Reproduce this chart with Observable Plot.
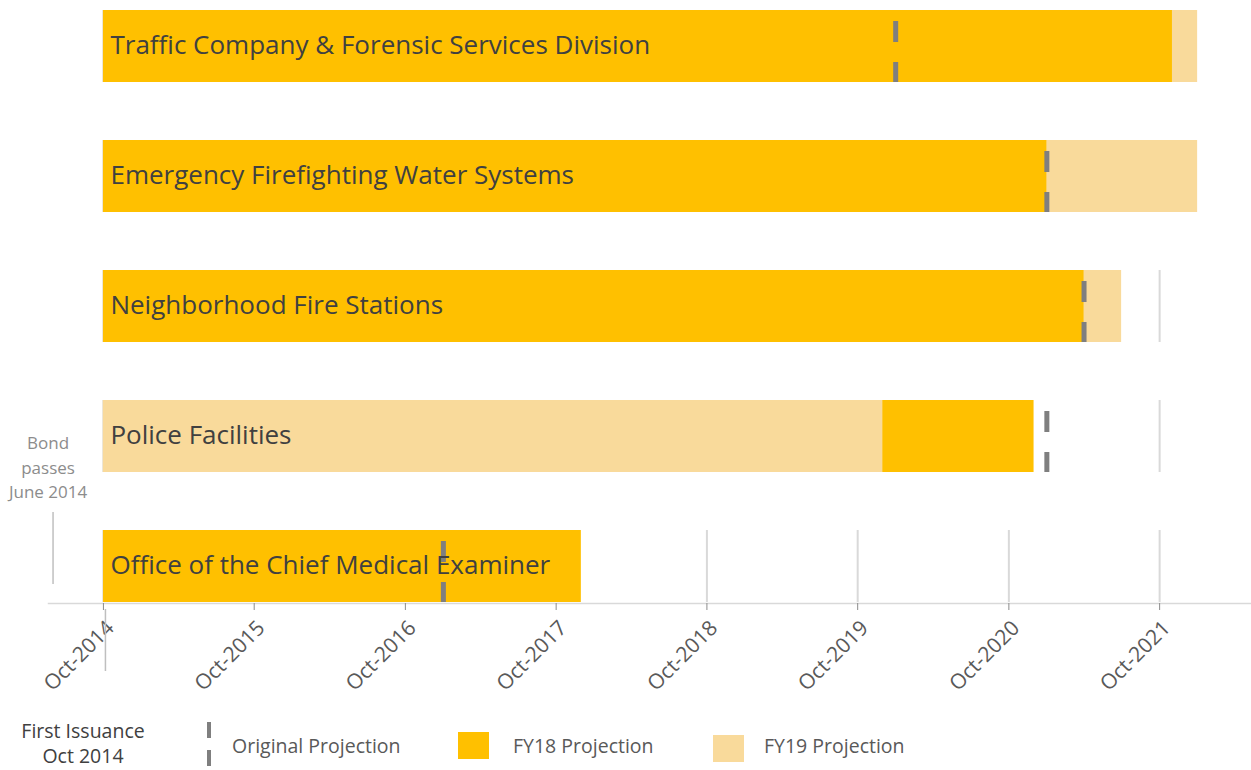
<!DOCTYPE html>
<html>
<head>
<meta charset="utf-8">
<script src="https://cdn.jsdelivr.net/npm/d3@7"></script>
<script src="https://cdn.jsdelivr.net/npm/@observablehq/plot@0.6"></script>
<style>
  body { margin: 0; background: #fff; font-family: 'Open Sans', sans-serif; }
  #legend { position: relative; width: 1251px; height: 65px; color: #595959; }
  #legend div { position: absolute; }
  .lt { font-size: 19.5px; line-height: 24px; white-space: nowrap; }
  .it { font-size: 19.5px; line-height: 18px; white-space: nowrap; width: 140px; text-align: center; color: #404040; left: 13px; }
</style>
</head>
<body>
<div id="chart"></div>
<div id="legend"></div>
<script>
// ---- data ----
const projects = [
  "Traffic Company & Forensic Services Division",
  "Emergency Firefighting Water Systems",
  "Neighborhood Fire Stations",
  "Police Facilities",
  "Office of the Chief Medical Examiner"
];
const startDate = "2014-10-01";
const fy18End = ["2021-11-01", "2021-01-01", "2021-04-01", "2020-12-01", "2017-12-01"];
const fy19End = ["2022-01-01", "2022-01-01", "2021-07-01", "2019-12-01", null];
const originalProjection = ["2020-01-01", "2021-01-01", "2021-04-01", "2021-01-01", "2017-01-01"];
const tickDates = ["2014-10-01", "2015-10-01", "2016-10-01", "2017-10-01", "2018-10-01", "2019-10-01", "2020-10-01", "2021-10-01"];
const tickLabels = ["Oct-2014", "Oct-2015", "Oct-2016", "Oct-2017", "Oct-2018", "Oct-2019", "Oct-2020", "Oct-2021"];
const xDomain = ["2014-05-21", "2022-05-09"];
const bondDate = "2014-06-01";
const bondText = "Bond\npasses\nJune 2014";
const issuanceDate = "2014-10-01";
const issuanceText = ["First Issuance", "Oct 2014"];
const seriesNames = ["FY18 Projection", "FY19 Projection"];
const seriesColors = ["#FFC000", "#F9DA9B"];
const originalName = "Original Projection";

// ---- derived tables ----
const parse = d3.utcParse("%Y-%m-%d");
const fmt = d3.utcFormat("%Y-%m-%d");
const bars = projects.flatMap((p, i) => [
  {project: p, series: seriesNames[0], start: parse(startDate), end: parse(fy18End[i])},
  fy19End[i] ? {project: p, series: seriesNames[1], start: parse(startDate), end: parse(fy19End[i])} : null
].filter(Boolean).sort((a, b) => b.end - a.end));
const orig = projects.map((p, i) => ({project: p, date: parse(originalProjection[i])}));
const grid = projects.flatMap(p => tickDates.map(t => ({project: p, date: parse(t)})));
const lastRow = projects[projects.length - 1];
const ticks = tickDates.map(parse);

const plot = Plot.plot({
  width: 1251,
  height: 705,
  marginTop: 10,
  marginBottom: 102,
  marginLeft: 48,
  marginRight: 1,
  x: {type: "utc", domain: xDomain.map(parse), axis: null},
  y: {domain: projects, paddingInner: 0.446, paddingOuter: 0, axis: null},
  color: {domain: seriesNames, range: seriesColors},
  style: {fontFamily: "'Open Sans', sans-serif", background: "white", overflow: "visible"},
  marks: [
    Plot.tickX(grid, {x: "date", y: "project", stroke: "#d9d9d9", strokeWidth: 2}),
    Plot.rectX(bars, {x1: "start", x2: "end", y: "project", fill: "series"}),
    Plot.tickX(orig, {x: "date", y: "project", stroke: "#7f7f7f", strokeWidth: 5, strokeDasharray: "21,20", strokeDashoffset: 30}),
    Plot.text(projects, {x: () => parse(startDate), y: d => d, text: d => d, textAnchor: "start", dx: 7, dy: -1, fontSize: 26, fill: "#404040"}),
    Plot.frame({anchor: "bottom", stroke: "#d9d9d9", strokeWidth: 1.5}),
    // tick marks
    Plot.axisX({ticks, tickFormat: () => "", tickSize: 7, stroke: "#8c8c8c"}),
    // tick labels
    Plot.axisX({
      ticks,
      tickFormat: d => tickLabels[tickDates.indexOf(fmt(d))],
      tickRotate: -45, tickSize: 0, tickPadding: 21, dx: 7,
      fill: "#595959", fontSize: 21
    }),
    Plot.tickX([bondDate], {x: d => parse(d), y: () => lastRow, insetTop: -18, insetBottom: 18, stroke: "#bfbfbf", strokeWidth: 1.5}),
    Plot.text([bondText], {x: () => parse(bondDate), y: () => lastRow, text: d => d, dy: -101, dx: -5, fontSize: 17, lineHeight: 1.47, fill: "#8c8c8c"}),
    Plot.tickX([issuanceDate], {x: d => parse(d), y: () => lastRow, insetTop: 79, insetBottom: -69, dx: 2, stroke: "#bfbfbf", strokeWidth: 1.5})
  ]
});
document.getElementById("chart").appendChild(plot);

// ---- legend (HTML, below the SVG) ----
const lg = document.getElementById("legend");
lg.innerHTML = `
  <div class="it" style="top:17px">${issuanceText[0]}</div>
  <div class="it" style="top:42px">${issuanceText[1]}</div>
  <div style="left:207px;top:17px;width:4px;height:16px;background:#7f7f7f"></div>
  <div style="left:207px;top:45px;width:4px;height:16px;background:#7f7f7f"></div>
  <div class="lt" style="left:232px;top:29px">${originalName}</div>
  <div style="left:458px;top:27px;width:31px;height:27px;background:${seriesColors[0]}"></div>
  <div class="lt" style="left:513px;top:29px">${seriesNames[0]}</div>
  <div style="left:713px;top:30px;width:31px;height:27px;background:${seriesColors[1]}"></div>
  <div class="lt" style="left:764px;top:29px">${seriesNames[1]}</div>
`;
</script>
</body>
</html>
